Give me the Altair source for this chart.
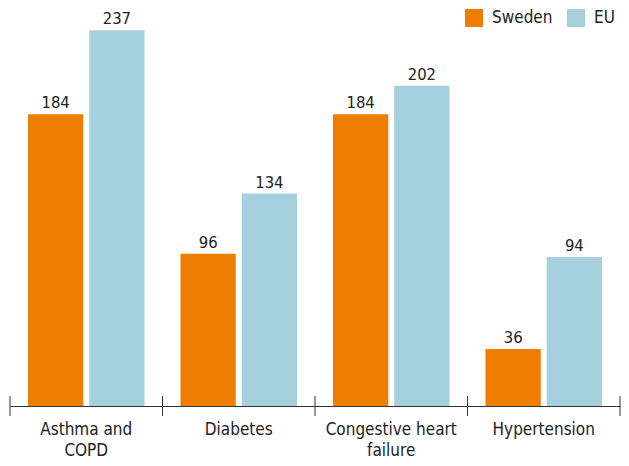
import altair as alt
import pandas as pd

categories = ["Asthma and\nCOPD", "Diabetes", "Congestive heart\nfailure", "Hypertension"]
sweden = [184, 96, 184, 36]
eu = [237, 134, 202, 94]
series = ["Sweden", "EU"]
colors = ["#EF7D00", "#A4D1DD"]

rows = []
for c, s, e in zip(categories, sweden, eu):
    rows.append({"cat": c, "series": "Sweden", "value": s})
    rows.append({"cat": c, "series": "EU", "value": e})
df = pd.DataFrame(rows)
cats_df = pd.DataFrame({"cat": categories})

W, H = 610, 395
FONT = "DejaVu Sans Condensed"

xenc = alt.X("cat:N", sort=categories, title=None,
             scale=alt.Scale(paddingInner=0, paddingOuter=0),
             axis=alt.Axis(labelExpr="split(datum.label, '\\n')", labelAngle=0,
                           ticks=False, domainColor="#333333", labelColor="#222222",
                           labelFontSize=17, labelFont=FONT, labelPadding=15,
                           labelLineHeight=21, labelBaseline="top"))
yenc = alt.Y("value:Q", scale=alt.Scale(domain=[0, 249.1], nice=False), axis=None)
xoff = alt.XOffset("series:N", sort=series,
                   scale=alt.Scale(paddingInner=0.097, paddingOuter=0.294))

bars = alt.Chart(df).mark_bar().encode(
    x=xenc, y=yenc, xOffset=xoff,
    color=alt.Color("series:N", sort=series,
                    scale=alt.Scale(domain=series, range=colors),
                    legend=alt.Legend(title=None, orient="none", legendX=455, legendY=-2,
                                      direction="horizontal", symbolType="square",
                                      symbolSize=324, symbolStrokeWidth=0, symbolOpacity=1,
                                      labelFontSize=17, labelFont=FONT, labelColor="#222222",
                                      columnPadding=14, labelOffset=9)),
)

texts = alt.Chart(df).mark_text(baseline="bottom", dy=-3, fontSize=16.5, font=FONT,
                                color="#222222").encode(
    x=xenc, y=yenc, xOffset=xoff, text="value:Q")

ticks = alt.Chart(cats_df).mark_rule(color="#333333").encode(
    x=alt.X("cat:N", sort=categories, bandPosition=0),
    y=alt.value(H - 10), y2=alt.value(H + 10))

last_tick = alt.Chart(cats_df.head(1)).mark_rule(color="#333333").encode(
    x=alt.value(W), y=alt.value(H - 10), y2=alt.value(H + 10))

chart = alt.layer(bars, texts, ticks, last_tick).properties(
    width=W, height=H, autosize=alt.AutoSizeParams(type="none"),
    padding={"left": 2, "top": 3, "right": 1, "bottom": 52},
).configure_view(stroke=None)

chart.save("out.html", embed_options={"renderer": "svg", "actions": False})
